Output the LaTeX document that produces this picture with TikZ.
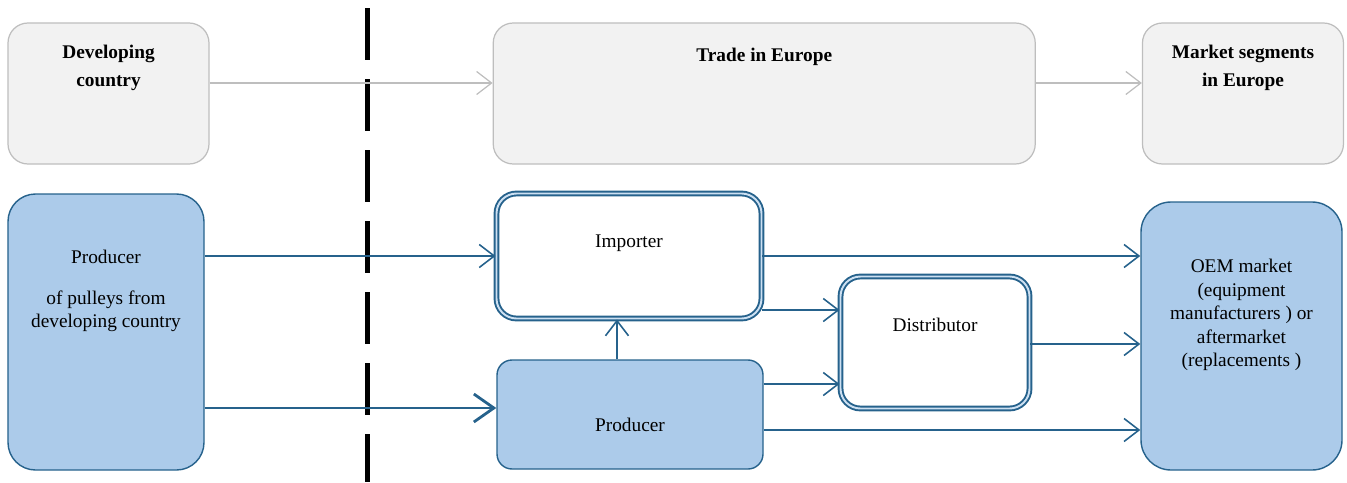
\documentclass[tikz,border=0pt]{standalone}
\usepackage{fontspec}
\setmainfont{Liberation Serif}
\usetikzlibrary{arrows.meta, positioning}
\definecolor{boxblue}{RGB}{172,203,234}
\definecolor{lineblue}{RGB}{38,98,140}
\definecolor{phasefill}{RGB}{242,242,242}
\definecolor{phaseline}{RGB}{190,190,190}
\tikzset{
  phase/.style={rectangle, rounded corners=0.4cm, minimum height=2.82cm, draw=phaseline, fill=phasefill, line width=0.7pt},
  phasetext/.style={font=\fontsize{11}{16}\selectfont\bfseries, align=center, anchor=north, yshift=-0.33cm},
  actor/.style={rectangle, rounded corners=0.4cm, draw=lineblue, fill=boxblue, line width=0.8pt},
  trader/.style={rectangle, rounded corners=0.4cm, draw=lineblue, double=boxblue!60, double distance=1.1pt, line width=1.1pt, fill=white},
  boxtext/.style={align=center, font=\fontsize{11}{13.3}\selectfont},
  flow/.style={-{Straight Barb[length=0.3cm, width=0.46cm]}, draw=lineblue, line width=0.9pt},
  mainflow/.style={-{Straight Barb[length=0.4cm, width=0.56cm]}, draw=lineblue, line width=1.6pt},
  phaseflow/.style={-{Straight Barb[length=0.3cm, width=0.46cm]}, draw=phaseline, line width=0.7pt},
  border/.style={draw=black, line width=0.1cm, dash pattern=on 1.03cm off 0.39cm},
}
\begin{document}
\begin{tikzpicture}[every node/.style={font=\fontsize{11}{13.3}\selectfont}]
  \useasboundingbox (0,0) rectangle (26.94,-9.64);

  % ---- Border: developing country | Europe ----
  \draw [border] (7.34,-0.16) -- (7.34,-9.64);

  % ---- Row 0: Phases ----
  \node (dev) [phase, minimum width=4.02cm, label={[phasetext]north:Developing\\country}] at (2.17,-1.87) {};
  \node (trade) [phase, minimum width=10.84cm, right=5.66cm of dev, label={[phasetext, yshift=-0.05cm]north:Trade in Europe}] {};
  \node (seg) [phase, minimum width=4.02cm, right=2.12cm of trade, label={[phasetext]north:Market segments\\in Europe}] {};

  % ---- Row 1: Actors ----
  \node (proddev) [actor, rounded corners=0.55cm, minimum width=3.92cm, minimum height=5.52cm,
    label={[boxtext, yshift=0.82cm]center:Producer\\[0.36cm]of pulleys from\\developing country}] at (2.12,-6.64) {};
  \node (importer) [trader, minimum width=5.3cm, minimum height=2.5cm,
    label={[boxtext, yshift=0.26cm]center:Importer}] at (12.58,-5.12) {};
  \node (producer) [actor, rounded corners=0.3cm, minimum width=5.32cm, minimum height=2.18cm,
    label={[boxtext, yshift=-0.21cm]center:Producer}] at (12.6,-8.29) {};
  \node (distributor) [trader, minimum width=3.78cm, minimum height=2.64cm,
    label={[boxtext, yshift=0.35cm]center:Distributor}] at (18.7,-6.85) {};
  \node (oem) [actor, rounded corners=0.6cm, minimum width=4.02cm, minimum height=5.36cm,
    label={[boxtext, yshift=0.42cm]center:OEM market\\(equipment\\manufacturers ) or\\aftermarket\\(replacements )}] at (24.83,-6.72) {};

  % ---- Connector ends ----
  \coordinate (pIn) at ([yshift=0.13cm]producer.west);
  \coordinate (pUp) at ([xshift=-0.26cm]producer.north);
  \coordinate (pOut) at ([yshift=-0.31cm]producer.east);
  \coordinate (dIn1) at ([yshift=0.65cm]distributor.west);
  \coordinate (dIn2) at ([yshift=-0.83cm]distributor.west);

  % ---- Arrows ----
  \draw [phaseflow] (dev.east |- 0,-1.66) -- (trade.west |- 0,-1.66);
  \draw [phaseflow] (trade.east |- 0,-1.66) -- (seg.west |- 0,-1.66);
  \draw [flow] (proddev.east |- importer.west) -- (importer.west);
  \draw [mainflow] (proddev.east |- pIn) -- (pIn);
  \draw [flow] (pUp) -- (pUp |- importer.south);
  \draw [flow] (importer.east) -- (importer.east -| oem.west);
  \draw [flow] (importer.east |- dIn1) -- (dIn1);
  \draw [flow] (producer.east |- dIn2) -- (dIn2);
  \draw [flow] ([yshift=-0.03cm]distributor.east) -- ([yshift=-0.03cm]distributor.east -| oem.west);
  \draw [flow] (pOut) -- (pOut -| oem.west);

\end{tikzpicture}
\end{document}
